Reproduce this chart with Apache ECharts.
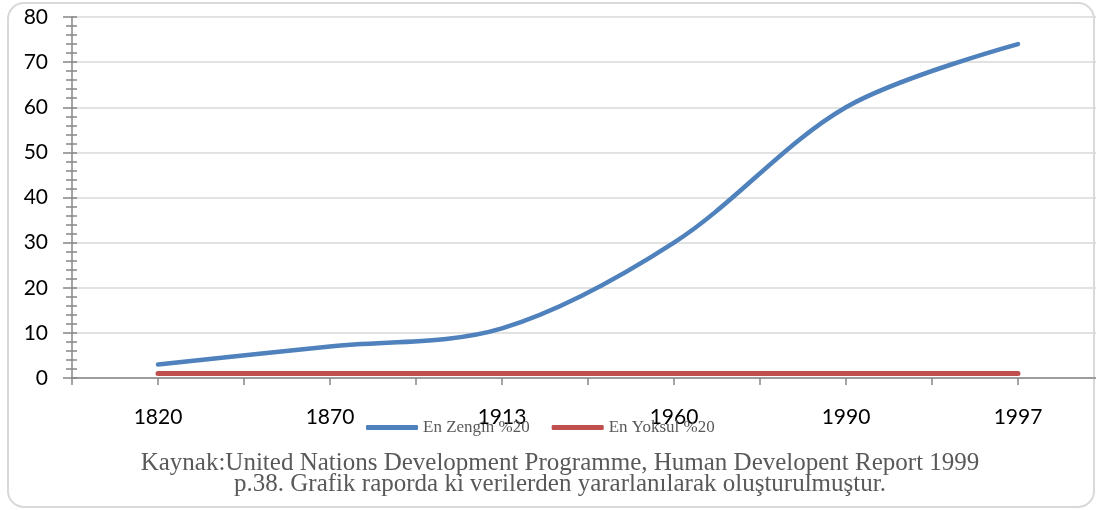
<!DOCTYPE html>
<html>
<head>
<meta charset="utf-8">
<script src="https://cdn.jsdelivr.net/npm/echarts@6/dist/echarts.min.js"></script>
<style>
  html, body { margin: 0; padding: 0; background: #fff; }
  #chart { width: 1096px; height: 510px; }
</style>
</head>
<body>
<div id="chart"></div>
<script>
// kategoriler (yillar)
var years = ['1820', '1870', '1913', '1960', '1990', '1997'];
// en zengin %20 / en yoksul %20 orani
var zengin = [3, 7, 11, 30, 60, 74];
var yoksul = [1, 1, 1, 1, 1, 1];
var seriesNames = ['En Zengin %20', 'En Yoksul %20'];
var captionLines = [
  'Kaynak:United Nations Development Programme, Human Developent Report 1999',
  'p.38. Grafik raporda ki verilerden yararlanılarak oluşturulmuştur.'
];

var axisColor = '#868686';
var myChart = echarts.init(document.getElementById('chart'));

function toPoints(arr) {
  return arr.map(function (v, i) { return [i, v]; });
}

var option = {
  animation: false,
  backgroundColor: '#fff',
  grid: { left: 72, top: 17, width: 1032, height: 361, outerBoundsMode: 'none', containLabel: false },
  legend: {
    data: seriesNames,
    left: 366,
    top: 419,
    padding: 0,
    icon: 'roundRect',
    itemWidth: 52,
    itemHeight: 5,
    itemGap: 22,
    textStyle: { fontFamily: 'Liberation Serif', fontSize: 17, color: '#595959' }
  },
  xAxis: {
    type: 'value',
    min: -0.5,
    max: 5.5,
    interval: 0.5,
    axisLine: { onZero: false, lineStyle: { color: axisColor, width: 1.5 } },
    axisTick: { show: true, inside: false, length: 7, lineStyle: { color: axisColor, width: 1.5 } },
    splitLine: { show: false },
    axisLabel: {
      margin: 29,
      fontFamily: 'Lato',
      fontSize: 21,
      color: '#000',
      formatter: function (v) {
        return Number.isInteger(v) ? years[v] : '';
      }
    }
  },
  yAxis: [{
    type: 'value',
    min: 0,
    max: 80,
    interval: 10,
    axisLine: { show: true, onZero: false, lineStyle: { color: axisColor, width: 1.5 } },
    axisTick: { show: true, length: 9, lineStyle: { color: axisColor, width: 1.5 } },
    minorTick: { show: true, splitNumber: 5, length: 6, lineStyle: { color: axisColor, width: 1.5 } },
    splitLine: { show: true, lineStyle: { color: '#d9d9d9', width: 1.5 } },
    axisLabel: { margin: 24, fontFamily: 'Lato', fontSize: 21, color: '#000' }
  }, {
    // ic taraftaki tikler icin ikinci eksen
    type: 'value',
    position: 'left',
    min: 0,
    max: 80,
    interval: 10,
    axisLine: { show: false, onZero: false },
    axisTick: { show: true, inside: true, length: 5, lineStyle: { color: axisColor, width: 1.5 } },
    minorTick: { show: true, splitNumber: 5, length: 5, lineStyle: { color: axisColor, width: 1.5 } },
    splitLine: { show: false },
    axisLabel: { show: false }
  }],
  series: [{
    name: seriesNames[0],
    type: 'line',
    data: toPoints(zengin),
    smooth: 0.33,
    symbol: 'none',
    color: '#4f81bd',
    lineStyle: { width: 4.5, color: '#4f81bd', cap: 'round' },
    z: 3
  }, {
    name: seriesNames[1],
    type: 'line',
    data: toPoints(yoksul),
    symbol: 'none',
    color: '#c0504d',
    lineStyle: { width: 5, color: '#c0504d', cap: 'round' },
    z: 2
  }],
  graphic: [{
    type: 'rect',
    z: -10,
    shape: { x: 8, y: 3, width: 1086, height: 504, r: 16 },
    style: { fill: null, stroke: '#d9d9d9', lineWidth: 2 }
  }, {
    type: 'text',
    x: 560,
    y: 476,
    style: {
      text: captionLines[0],
      fontFamily: 'Liberation Serif',
      fontSize: 25,
      fill: '#595959',
      textAlign: 'center',
      textVerticalAlign: 'bottom'
    }
  }, {
    type: 'text',
    x: 560,
    y: 497,
    style: {
      text: captionLines[1],
      fontFamily: 'Liberation Serif',
      fontSize: 25,
      fill: '#595959',
      textAlign: 'center',
      textVerticalAlign: 'bottom'
    }
  }]
};

myChart.setOption(option);
</script>
</body>
</html>
